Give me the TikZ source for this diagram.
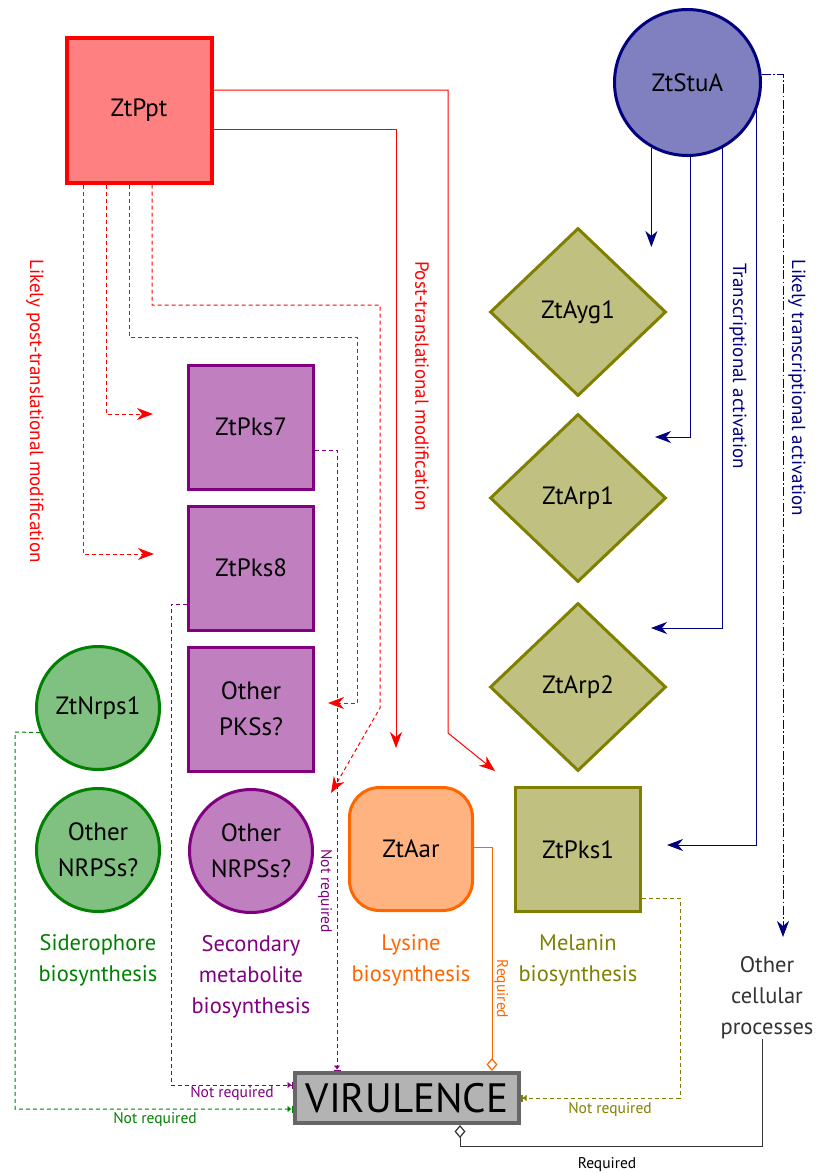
\documentclass[tikz,border=0pt]{standalone}
\usepackage{fontspec}
\setmainfont{PT Sans}
\usetikzlibrary{arrows.meta,shapes.geometric,calc}
\definecolor{cred}{HTML}{FF0000}
\definecolor{credf}{HTML}{FF8080}
\definecolor{cnavy}{HTML}{000080}
\definecolor{cnavyf}{HTML}{8080C0}
\definecolor{colive}{HTML}{808000}
\definecolor{colivef}{HTML}{C0C080}
\definecolor{cpurple}{HTML}{800080}
\definecolor{cpurplef}{HTML}{C080C0}
\definecolor{cgreen}{HTML}{008000}
\definecolor{cgreenf}{HTML}{80C080}
\definecolor{corange}{HTML}{FF6600}
\definecolor{corangef}{HTML}{FFB380}
\definecolor{cgray}{HTML}{666666}
\definecolor{cgrayf}{HTML}{B3B3B3}
\definecolor{cdark}{HTML}{333333}
\newcommand{\nfnt}{\fontsize{25}{36}\selectfont}
\newcommand{\cfnt}{\fontsize{22.5}{31}\selectfont}
\newcommand{\rfnt}{\fontsize{19}{22}\selectfont}
\newcommand{\sfnt}{\fontsize{15.5}{18}\selectfont}
\begin{document}
\begin{tikzpicture}[x=1pt,y=-1pt,
  gnode/.style={draw, line width=3pt, inner sep=0pt, align=center, font=\nfnt},
  sq/.style={gnode, rectangle, minimum width=125, minimum height=124},
  rnd/.style={gnode, circle, minimum size=123},
  dia/.style={gnode, diamond, draw=colive, fill=colivef, minimum width=176, minimum height=168},
  catlab/.style={align=center, font=\cfnt, inner sep=0pt},
  rotlab/.style={rotate=-90, font=\rfnt, inner sep=0pt},
  smlab/.style={font=\sfnt, inner sep=0pt},
  tipS/.style={-{Stealth[length=16pt,width=12pt,inset=5pt]}},
  conn/.style={line width=1pt},
  dsh/.style={dash pattern=on 4pt off 3pt},
  vtip/.style={-{Latex[length=4pt,width=7pt]Bar[width=7pt,line width=1.5pt]}},
  dtip/.style={-{Diamond[open,length=13pt,width=11pt,line width=1.2pt]}}
]
\useasboundingbox (0,0) rectangle (815,1173);

% ---------- nodes ----------
\node[gnode, rectangle, draw=cred, fill=credf, line width=4pt, minimum width=145, minimum height=145] (ppt) at (139,110) {ZtPpt};
\node[gnode, circle, draw=cnavy, fill=cnavyf, minimum size=146] (stua) at (687.5,82.5) {ZtStuA};

\node[dia] (ayg1) at (578,312) {ZtAyg1};
\node[dia] (arp1) at (578,498) {ZtArp1};
\node[dia] (arp2) at (578,687) {ZtArp2};
\node[sq, draw=colive, fill=colivef] (pks1) at (578,849.5) {ZtPks1};

\node[sq, draw=cpurple, fill=cpurplef] (pks7) at (251,427) {ZtPks7};
\node[sq, draw=cpurple, fill=cpurplef] (pks8) at (251,568) {ZtPks8};
\node[sq, draw=cpurple, fill=cpurplef] (opks) at (251,709) {Other\\PKSs?};
\node[rnd, draw=cpurple, fill=cpurplef] (onrpsp) at (251,851) {Other\\NRPSs?};

\node[rnd, draw=cgreen, fill=cgreenf] (nrps1) at (98,708) {ZtNrps1};
\node[rnd, draw=cgreen, fill=cgreenf] (onrpsg) at (98,850) {Other\\NRPSs?};

\node[gnode, rectangle, rounded corners=30pt, draw=corange, fill=corangef, minimum width=123, minimum height=123] (aar) at (411,849) {ZtAar};

\node[draw=cgray, fill=cgrayf, line width=4pt, rectangle, minimum width=224, minimum height=50, inner sep=0pt, font=\fontsize{41}{48}\selectfont] (vir) at (407,1098) {VIRULENCE};

% category labels
\node[catlab, text=cgreen] (sid) at (98,960) {Siderophore\\biosynthesis};
\node[catlab, text=cpurple] (sec) at (251,977) {Secondary\\metabolite\\biosynthesis};
\node[catlab, text=corange] (lys) at (411,960) {Lysine\\biosynthesis};
\node[catlab, text=colive] (mel) at (578,960) {Melanin\\biosynthesis};
\node[catlab, text=cdark] (ocp) at (767,998) {Other\\cellular\\processes};

% rotated labels
\node[rotlab, text=cred] (l1) at (35,411) {Likely post-translational modification};
\node[rotlab, text=cred] (l2) at (422,386) {Post-translational modification};
\node[rotlab, text=cnavy] (l3) at (738,366) {Transcriptional activation};
\node[rotlab, text=cnavy] (l4) at (797,388) {Likely transcriptional activation};

% small labels
\node[smlab, rotate=-90, text=cpurple] (nr1) at (325,891) {Not required};
\node[smlab, rotate=-90, text=corange] (rq1) at (501,989) {Required};
\node[smlab, text=cpurple] (nr2) at (232,1094) {Not required};
\node[smlab, text=cgreen] (nr3) at (155,1120) {Not required};
\node[smlab, text=colive] (nr4) at (610,1110) {Not required};
\node[smlab, text=black] (rq2) at (607,1165) {Required};

% ---------- free end coordinates ----------
\coordinate (tPks1) at (495,771);
\coordinate (tAar) at (396,748);
\coordinate (tONp) at (331,793);
\coordinate (tOpk) at (328,703);
\coordinate (tP7) at (153,414);
\coordinate (tP8) at (154,554);
\coordinate (tAyg) at (652,247);
\coordinate (tArp1) at (655,437);
\coordinate (tArp2) at (651,628);
\coordinate (tPk1) at (667,845);
\coordinate (tOcp) at (783,937);
\coordinate (bk) at (460,1146);

% ---------- red connectors ----------
\draw[conn, cred, tipS] ([yshift=20pt]ppt.east) -| (448,733) -- (tPks1);
\draw[conn, cred, tipS] ([yshift=-19pt]ppt.east) -| (tAar);
\draw[conn, cred, dsh, tipS] ([xshift=13pt]ppt.south) |- (380,305) -- (380,708) -- (tONp);
\draw[conn, cred, dsh, tipS] ([xshift=-10pt]ppt.south) |- (357,337) -- (357,703) -- (tOpk);
\draw[conn, cred, dsh, tipS] ([xshift=-33pt]ppt.south) |- (tP7);
\draw[conn, cred, dsh, tipS] ([xshift=-56pt]ppt.south) |- (tP8);

% ---------- navy connectors ----------
\draw[conn, cnavy, tipS] (stua.-119) -- (stua.-119 |- tAyg);
\draw[conn, cnavy, tipS] (stua.-88) |- (tArp1);
\draw[conn, cnavy, tipS] (stua.-62) |- (tArp2);
\draw[conn, cnavy, tipS] (stua.-22) |- (tPk1);
\draw[conn, cnavy, tipS, dash pattern=on 9pt off 2.5pt on 1.5pt off 2.5pt] (stua.6) -| (tOcp);

% ---------- virulence connectors ----------
\draw[conn, colive, dsh, vtip] ([yshift=-48.5pt]pks1.east) -- (680,898) |- (vir.east);
\draw[conn, cpurple, dsh, vtip] ([yshift=-23pt]pks7.east) -| ([xshift=-70pt]vir.north);
\draw[conn, cpurple, dsh, vtip] ([yshift=-36pt]pks8.west) -- (171,604) |- ([yshift=13pt]vir.west);
\draw[conn, cgreen, dsh, vtip] (nrps1.203) -- (15,732) |- ([yshift=-11pt]vir.west);
\draw[conn, corange, dtip] ([yshift=2pt]aar.east) -| ([xshift=85pt]vir.north);
\draw[conn, cdark, dtip] ([xshift=-5pt]ocp.south) |- (bk) -- (bk |- vir.south);
\end{tikzpicture}
\end{document}
